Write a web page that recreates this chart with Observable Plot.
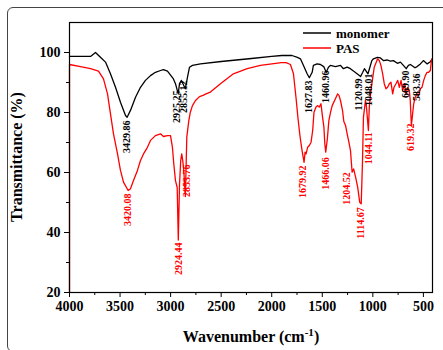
<!DOCTYPE html>
<html><head><meta charset="utf-8">
<script src="https://cdn.jsdelivr.net/npm/d3@7"></script>
<script src="https://cdn.jsdelivr.net/npm/@observablehq/plot@0.6"></script>
<style>
body{margin:0;background:#fff;overflow:hidden}
#wrap{position:relative;width:443px;height:350px}
#box{position:absolute;left:7px;top:7px;width:450px;height:345px;border:1px solid #444;border-radius:6px;box-sizing:border-box}
svg{font-family:"Liberation Serif","Times New Roman",serif;font-weight:bold}
</style></head>
<body><div id="wrap"><div id="box"></div></div>
<script>
// monomer spectrum
const monomerW = [4000,3792,3743,3694,3644,3595,3545,3496,3446,3430,3397,3347,3298,3249,3199,3150,3100,3071,3031,2972,2952,2925,2912,2893,2855,2833,2813,2784,2705,2500,2200,2000,1900,1800,1746,1716,1686,1650,1628,1600,1588,1551,1518,1486,1461,1439,1420,1370,1320,1291,1254,1222,1192,1156,1121,1100,1083,1048,1030,1010,994,955,925,896,856,826,797,757,727,698,670,648,629,583,562,530,500,463,431,411];
const monomerT = [98.7,98.7,100,98.4,96.8,92.9,88.4,83.4,79,78.4,80.7,85.1,88.4,90.7,92.3,93.4,94,94.3,93.8,91.2,89.6,86.2,89.6,90.7,87.9,91.8,95.1,95.7,96.2,97,98,98.7,99,99,98.4,97.9,95.7,92.9,91.6,93.4,95.7,96.2,96,95.3,93.4,95.1,95.7,95.3,95.7,94.6,95.1,94.6,93.8,92.9,92,93.4,94.6,92.9,95,97.3,97.9,98.4,98.2,97.3,97.5,97.1,97.3,96.4,96.8,95.7,94.6,95.7,96,94.9,95.3,96.2,97.3,96.2,96.9,98];
// PAS spectrum
const pasW = [4000,4000,3891,3792,3713,3664,3624,3595,3565,3525,3496,3466,3420,3397,3367,3328,3298,3268,3229,3199,3150,3100,3071,3031,3001,2982,2969,2952,2935,2924,2912,2900,2890,2880,2870,2854,2840,2820,2805,2784,2754,2714,2680,2650,2606,2507,2379,2243,2112,1904,1858,1815,1785,1760,1740,1720,1700,1680,1670,1660,1645,1628,1611,1595,1582,1562,1545,1530,1513,1497,1484,1475,1466,1450,1435,1418,1402,1370,1349,1335,1320,1300,1287,1270,1254,1237,1221,1205,1190,1170,1150,1130,1115,1102,1093,1073,1063,1044,1035,1019,1000,986,953,936,920,903,887,870,854,837,821,804,791,771,754,738,721,705,688,672,655,639,630,619,610,596,580,563,547,530,514,497,481,464,448,431,421,411];
const pasT = [20,96,95.3,94.6,93.8,91.2,86.2,79.6,72.9,66.2,60.7,56.8,54,54.6,57.3,60.7,64,66.2,68.4,70.7,72.3,72.9,72,72.3,72.3,68.4,63,57.3,55,37.5,56,64,66.2,64,60.7,52,71.8,77.3,80.1,82.3,84,85.3,85.7,86.2,86.8,89.6,92.9,94.6,95.7,96.6,96.6,96,92.9,85,78,72,67.3,63.4,66.8,66.2,68.4,69,70.1,74,80.1,81.8,82.3,81.8,82.9,78.4,75.1,69.6,66.8,71.2,77.3,80.1,82.3,84.6,86.2,85.7,84,80.7,77,75.7,72.9,70.1,67.3,60.1,61.2,58.4,55.1,50.1,49.6,64,78.4,84,81.8,74,81.8,87.3,91.8,95.1,97.9,97.3,95.7,92.9,89.6,87.9,88.4,89.6,90.1,86.2,88.4,89.6,90.7,88.4,90.7,87.3,89.6,86.2,88.4,87.3,84,75.7,78.4,82.9,85.1,86.2,85.7,87.9,88.4,90.7,92.3,93.4,93.4,94,97.3,98];
// peak labels
const monoLabels = ["3429.86","2925.25","2855.12","1627.83","1460.96","1120.99","1048.01","669.90","583.36"];
const monoLabelW = [3430,2935,2873,1630,1462,1140,1041,678,562];
const monoLabelT = [77.3,87.3,90.7,90.7,94,91.3,93,94,93];
const pasLabels = ["3420.08","2924.44","2853.76","1679.92","1466.06","1204.52","1114.67","1044.11","619.32"];
const pasLabelW = [3420,2924,2840,1690,1469,1261,1116,1040,629];
const pasLabelT = [53,36.7,62.7,62.3,65.1,60.1,48.4,73.4,76.3];
// axes
const xTicks = [4000,3500,3000,2500,2000,1500,1000,500];
const xMinor = [3750,3250,2750,2250,1750,1250,750];
const yTicks = [20,40,60,80,100];
const yMinor = [30,50,70,90];
const seriesNames = ["monomer","PAS"];
const seriesColors = ["#000000","#ff0000"];

const mono = monomerW.map((w,i)=>({w, t: monomerT[i]}));
const pas = pasW.map((w,i)=>({w, t: pasT[i]}));
const monoLab = monoLabels.map((s,i)=>({s, w: monoLabelW[i], t: monoLabelT[i]}));
const pasLab = pasLabels.map((s,i)=>({s, w: pasLabelW[i], t: pasLabelT[i]}));

const chart = Plot.plot({
  width: 443, height: 350,
  marginLeft: 69, marginRight: 11, marginTop: 22, marginBottom: 58,
  style: {background: "transparent", fontFamily: "Liberation Serif, serif", fontWeight: "bold"},
  x: {domain: [4000, 410]},
  y: {domain: [20, 110]},
  marks: [
    Plot.line(mono, {x: "w", y: "t", stroke: seriesColors[0], strokeWidth: 1.3}),
    Plot.line(pas, {x: "w", y: "t", stroke: seriesColors[1], strokeWidth: 1.3}),
    Plot.frame({stroke: "#000", strokeWidth: 1.2}),
    Plot.axisX({ticks: xTicks, tickSize: 5, tickPadding: 4, tickFormat: d => String(d), fontSize: 14, fontWeight: "bold", label: null, stroke: "#000"}),
    Plot.axisX({ticks: xMinor, tickSize: 3, tickFormat: () => "", label: null}),
    Plot.axisY({ticks: yTicks, tickSize: 5, tickPadding: 4, fontSize: 14, fontWeight: "bold", label: null}),
    Plot.axisY({ticks: yMinor, tickSize: 3, tickFormat: () => "", label: null}),
    Plot.text(monoLab, {x: "w", y: "t", text: "s", rotate: -90, textAnchor: "end", fill: seriesColors[0], fontSize: 10, fontWeight: "bold"}),
    Plot.text(pasLab, {x: "w", y: "t", text: "s", rotate: -90, textAnchor: "end", fill: seriesColors[1], fontSize: 10, fontWeight: "bold"})
  ]
});
document.getElementById("wrap").appendChild(chart);

const svg = d3.select(chart);
// y title
svg.append("text").attr("transform","translate(22,157) rotate(-90)").attr("text-anchor","middle")
  .attr("font-size",16).attr("font-weight","bold").attr("fill","#000").text("Transmittance (%)");
// x title
const xt = svg.append("text").attr("x",251).attr("y",342).attr("text-anchor","middle")
  .attr("font-size",16).attr("font-weight","bold").attr("fill","#000");
xt.append("tspan").text("Wavenumber (cm");
xt.append("tspan").attr("dy",-6).attr("font-size",11).text("-1");
xt.append("tspan").attr("dy",6).text(")");
// legend
const lg = svg.append("g").attr("text-anchor","start");
seriesNames.forEach((n,i)=>{
  const y = 33 + i*15;
  lg.append("line").attr("x1",303).attr("x2",331).attr("y1",y).attr("y2",y).attr("stroke",seriesColors[i]).attr("stroke-width",1.5);
  lg.append("text").attr("x",336).attr("y",y).attr("dy","0.35em").attr("text-anchor","start").attr("font-size",13).attr("font-weight","bold").attr("fill","#000").text(n);
});
</script>
</body></html>
